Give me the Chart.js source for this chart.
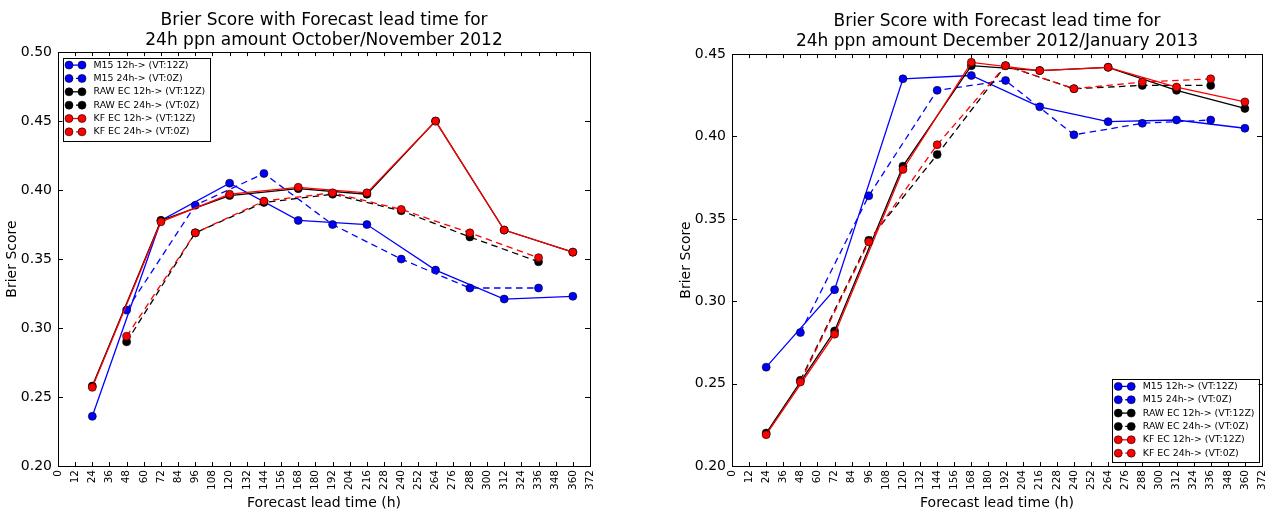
<!DOCTYPE html>
<html>
<head>
<meta charset="utf-8">
<script src="https://cdn.jsdelivr.net/npm/chart.js@4.4.1/dist/chart.umd.min.js"></script>
<style>
  body { margin: 0; background: #fff; }
  canvas { position: absolute; top: 0; }
  #octNov { left: 0; }
  #decJan { left: 636px; }
</style>
</head>
<body>
<canvas id="octNov" width="635" height="512"></canvas>
<canvas id="decJan" width="635" height="512"></canvas>
<script>
// lead times (h)
const hours12 = [24, 72, 120, 168, 216, 264, 312, 360];
const hours24 = [48, 96, 144, 192, 240, 288, 336];

const seriesNames = [
    'M15 12h-> (VT:12Z)',
    'M15 24h-> (VT:0Z)',
    'RAW EC 12h-> (VT:12Z)',
    'RAW EC 24h-> (VT:0Z)',
    'KF EC 12h-> (VT:12Z)',
    'KF EC 24h-> (VT:0Z)'
];

// October/November 2012
const m15_12_on = [0.236, 0.378, 0.405, 0.378, 0.375, 0.342, 0.321, 0.323];
const m15_24_on = [0.313, 0.389, 0.412, 0.375, 0.350, 0.329, 0.329];
const raw12_on = [0.258, 0.378, 0.396, 0.401, 0.397, 0.450, 0.371, 0.355];
const raw24_on = [0.290, 0.369, 0.391, 0.397, 0.385, 0.366, 0.348];
const kf12_on = [0.257, 0.377, 0.397, 0.402, 0.398, 0.450, 0.371, 0.355];
const kf24_on = [0.294, 0.369, 0.392, 0.398, 0.386, 0.369, 0.351];

// December 2012/January 2013
const m15_12_dj = [0.260, 0.307, 0.435, 0.437, 0.418, 0.409, 0.410, 0.405];
const m15_24_dj = [0.281, 0.364, 0.428, 0.434, 0.401, 0.408, 0.410];
const raw12_dj = [0.220, 0.282, 0.382, 0.443, 0.440, 0.442, 0.428, 0.417];
const raw24_dj = [0.252, 0.337, 0.389, 0.443, 0.429, 0.431, 0.431];
const kf12_dj = [0.219, 0.280, 0.380, 0.445, 0.440, 0.442, 0.430, 0.421];
const kf24_dj = [0.251, 0.336, 0.395, 0.443, 0.429, 0.433, 0.435];

Chart.defaults.font.family = '"DejaVu Sans", sans-serif';
Chart.defaults.color = '#000';

const colors = ['#0000ff', '#0000ff', '#000000', '#000000', '#ff0000', '#ff0000'];

function buildSets(values) {
    return values.map((ys, i) => {
        const dashed = i % 2 === 1;
        const xs = dashed ? hours24 : hours12;
        return {
            label: seriesNames[i],
            data: xs.map((x, j) => ({ x: x, y: ys[j] })),
            borderColor: colors[i],
            backgroundColor: colors[i],
            borderWidth: 1.3,
            borderDash: dashed ? [6.5, 4.5] : [],
            pointRadius: 4,
            pointBackgroundColor: colors[i],
            pointBorderColor: '#000',
            pointBorderWidth: 0.6,
            tension: 0,
            order: 5 - i // later series on top, like matplotlib
        };
    });
}

// box + inward tick marks like matplotlib
const frame = {
    id: 'frame',
    afterDraw(chart) {
        const { ctx, chartArea: a, scales: { x, y } } = chart;
        ctx.save();
        ctx.strokeStyle = '#000';
        ctx.lineWidth = 1;
        ctx.setLineDash([]);
        ctx.beginPath();
        x.ticks.forEach(t => {
            const px = Math.round(x.getPixelForValue(t.value)) + 0.5;
            ctx.moveTo(px, a.bottom); ctx.lineTo(px, a.bottom - 4);
            ctx.moveTo(px, a.top); ctx.lineTo(px, a.top + 4);
        });
        y.ticks.forEach(t => {
            const py = Math.round(y.getPixelForValue(t.value)) + 0.5;
            ctx.moveTo(a.left, py); ctx.lineTo(a.left + 5, py);
            ctx.moveTo(a.right, py); ctx.lineTo(a.right - 5, py);
        });
        ctx.stroke();
        ctx.strokeRect(Math.round(a.left) + 0.5, Math.round(a.top) + 0.5,
            Math.round(a.right - a.left), Math.round(a.bottom - a.top));
        ctx.restore();
    }
};

// legend box inside the plot area
const boxLegend = {
    id: 'boxLegend',
    afterDraw(chart, args, opts) {
        const { ctx, chartArea: a } = chart;
        const sets = chart.data.datasets;
        ctx.save();
        ctx.font = '9.4px "DejaVu Sans"';
        const rowH = 13.35;
        const w = Math.max(...sets.map(d => ctx.measureText(d.label).width)) + 35;
        const h = sets.length * rowH + 2.5;
        const left = opts.corner === 'tl' ? a.left + 4.5 : a.right - 3.5 - w;
        const top = opts.corner === 'tl' ? a.top + 5.5 : a.bottom - 4.5 - h;
        ctx.fillStyle = '#fff';
        ctx.fillRect(left, top, w, h);
        ctx.strokeStyle = '#000';
        ctx.lineWidth = 1;
        ctx.strokeRect(Math.round(left) + 0.5, Math.round(top) + 0.5, Math.round(w), Math.round(h));
        sets.forEach((d, i) => {
            const cy = top + 7.5 + i * rowH;
            ctx.strokeStyle = d.borderColor;
            ctx.lineWidth = 1.3;
            ctx.setLineDash(d.borderDash.length ? [4, 3] : []);
            ctx.beginPath();
            ctx.moveTo(left + 6.5, cy);
            ctx.lineTo(left + 19.5, cy);
            ctx.stroke();
            ctx.setLineDash([]);
            [left + 6.5, left + 19.5].forEach(mx => {
                ctx.beginPath();
                ctx.arc(mx, cy, 4, 0, Math.PI * 2);
                ctx.fillStyle = d.pointBackgroundColor;
                ctx.fill();
                ctx.strokeStyle = '#000';
                ctx.lineWidth = 0.6;
                ctx.stroke();
            });
            ctx.fillStyle = '#000';
            ctx.textBaseline = 'middle';
            ctx.fillText(d.label, left + 31, cy);
        });
        ctx.restore();
    }
};

function makeChart(id, titleLines, sets, yMin, yMax, corner, pad) {
    return new Chart(document.getElementById(id), {
        type: 'line',
        data: { datasets: sets },
        options: {
            responsive: false,
            animation: false,
            layout: { padding: { left: pad.left, right: pad.right, top: 0, bottom: 0 } },
            plugins: {
                legend: { display: false },
                tooltip: { enabled: false },
                title: {
                    display: true,
                    text: titleLines,
                    fullSize: false,
                    color: '#000',
                    font: { size: 17, weight: 'normal', lineHeight: 1.15 },
                    padding: { top: pad.titleTop, bottom: pad.titleBottom }
                },
                boxLegend: { corner: corner }
            },
            scales: {
                x: {
                    type: 'linear',
                    min: 0,
                    max: 372,
                    ticks: {
                        stepSize: 12,
                        autoSkip: false,
                        minRotation: 90,
                        maxRotation: 90,
                        padding: 4,
                        font: { size: 10.5 }
                    },
                    grid: { display: false, drawTicks: false },
                    border: { display: false },
                    title: {
                        display: true,
                        text: 'Forecast lead time (h)',
                        font: { size: 14 },
                        padding: { top: 0, bottom: 0 }
                    },
                    // fixed height; the vertical labels need no extra room on the right
                    afterFit: s => { s.height = 46; s.paddingRight = 0; }
                },
                y: {
                    min: yMin,
                    max: yMax,
                    ticks: {
                        stepSize: 0.05,
                        padding: 6,
                        font: { size: 14 },
                        callback: v => v.toFixed(2)
                    },
                    grid: { display: false, drawTicks: false },
                    border: { display: false },
                    title: {
                        display: true,
                        text: 'Brier Score',
                        font: { size: 14 },
                        padding: { top: 4, bottom: 0 }
                    },
                    afterFit: s => { s.width = 58; }
                }
            }
        },
        plugins: [frame, boxLegend]
    });
}

makeChart('octNov',
    ['Brier Score with Forecast lead time for', '24h ppn amount October/November 2012'],
    buildSets([m15_12_on, m15_24_on, raw12_on, raw24_on, kf12_on, kf24_on]),
    0.20, 0.50, 'tl',
    { left: 0, right: 45, titleTop: 11, titleBottom: 2 });

makeChart('decJan',
    ['Brier Score with Forecast lead time for', '24h ppn amount December 2012/January 2013'],
    buildSets([m15_12_dj, m15_24_dj, raw12_dj, raw24_dj, kf12_dj, kf24_dj]),
    0.20, 0.45, 'br',
    { left: 38, right: 9, titleTop: 12, titleBottom: 3 });
</script>
</body>
</html>
